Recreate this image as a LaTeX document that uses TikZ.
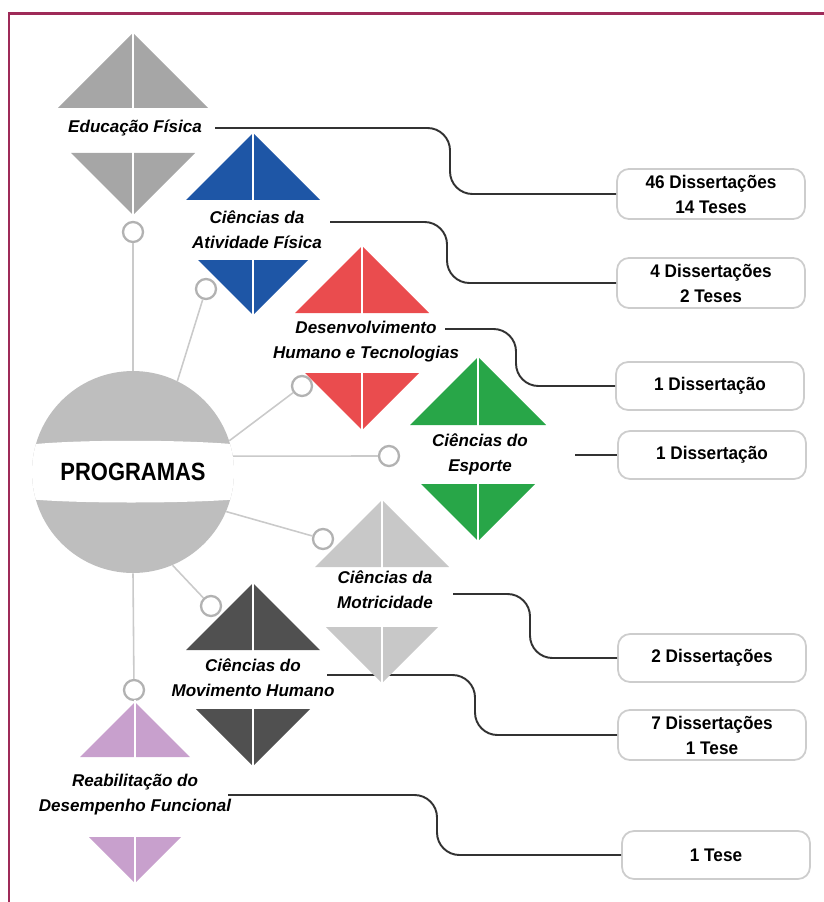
\documentclass[tikz,border=0pt]{standalone}
\usepackage{fontspec}
\setmainfont{Liberation Sans}
\newfontfamily\boxfont[FakeStretch=0.94]{Liberation Sans}
\newfontfamily\titlefont[FakeStretch=0.88]{Liberation Sans}
\usepackage{tikz}
\usetikzlibrary{math}
\definecolor{framered}{RGB}{158, 42, 88}
\definecolor{efgray}{RGB}{166, 166, 166}
\definecolor{cafblue}{RGB}{30, 86, 166}
\definecolor{dhtred}{RGB}{234, 76, 78}
\definecolor{cegreen}{RGB}{40, 166, 72}
\definecolor{cmgray}{RGB}{200, 200, 200}
\definecolor{cmhgray}{RGB}{80, 80, 80}
\definecolor{rdfpink}{RGB}{200, 160, 205}
\definecolor{circlegray}{RGB}{190, 190, 190}
\definecolor{spokegray}{RGB}{202, 202, 202}
\definecolor{ringgray}{RGB}{178, 178, 178}
\definecolor{linkgray}{RGB}{50, 50, 50}
\definecolor{boxgray}{RGB}{205, 205, 205}

\begin{document}
\begin{tikzpicture}[x=0.02cm, y=-0.02cm,
  spoke/.style={spokegray, line width=0.9pt},
  ring/.style={circle, draw=ringgray, fill=white, line width=1.3pt, minimum size=0.4cm, inner sep=0pt},
  prog/.style={align=center, font=\bfseries\itshape\fontsize{9.7}{14.2}\selectfont},
  link/.style={linkgray, line width=1.1pt, rounded corners=0.45cm},
  count/.style={draw=boxgray, line width=1pt, rounded corners=0.24cm, fill=white,
    minimum width=3.76cm, minimum height=0.96cm, align=center,
    font=\boxfont\bfseries\fontsize{10.4}{14.2}\selectfont}]

  \useasboundingbox (0, 0) rectangle (824, 902);

  % frame
  \draw[framered, line width=1.7pt] (824, 13.5) -- (9, 13.5) -- (9, 902);

  % central circle
  \fill[circlegray] (133, 472) circle (2.02cm);
  \begin{scope}
    \clip (133, 472) circle (2.02cm);
    \fill[white] (20, 446) .. controls (60, 439) and (200, 439) .. (250, 446)
                 -- (250, 498) .. controls (200, 504) and (60, 504) .. (20, 498) -- cycle;
  \end{scope}
  \node[circle, minimum size=4.04cm, inner sep=0pt,
        font=\titlefont\bfseries\fontsize{14.2}{16}\selectfont] (progs) at (133, 472) {PROGRAMAS};

  % rings
  \node[ring] (r1) at (133, 232) {};
  \node[ring] (r2) at (206, 289) {};
  \node[ring] (r3) at (302, 386) {};
  \node[ring] (r4) at (389, 456) {};
  \node[ring] (r5) at (323, 539) {};
  \node[ring] (r6) at (211, 606) {};
  \node[ring] (r7) at (134, 690) {};

  \draw[spoke] (progs.north) -- (r1);
  \draw[spoke] (progs.64) -- (r2);
  \draw[spoke] (progs.18) -- (r3);
  \draw[spoke] (progs.9) -- (r4);
  \draw[spoke] (progs.-23) -- (r5);
  \draw[spoke] (progs.-67) -- (r6);
  \draw[spoke] (progs.south) -- (r7);

  % counts
  \node[count] (b1) at (711, 194) {46 Dissertações\\14 Teses};
  \node[count] (b2) at (711, 283) {4 Dissertações\\2 Teses};
  \node[count] (b3) at (710, 386) {1 Dissertação};
  \node[count] (b4) at (712, 455) {1 Dissertação};
  \node[count] (b5) at (712, 658) {2 Dissertações};
  \node[count] (b6) at (712, 735) {7 Dissertações\\1 Tese};
  \node[count] (b7) at (716, 855) {1 Tese};

  % links
  \coordinate (ef-o) at (215, 128);
  \coordinate (caf-o) at (330, 222);
  \coordinate (dht-o) at (445, 329);
  \coordinate (ce-o) at (575, 455);
  \coordinate (cm-o) at (453, 594);
  \coordinate (cmh-o) at (327, 675);
  \coordinate (rdf-o) at (228, 795);

  \coordinate (k1) at (450, 0);
  \coordinate (k2) at (447, 0);
  \coordinate (k3) at (516, 0);
  \coordinate (k5) at (530, 0);
  \coordinate (k6) at (475, 0);
  \coordinate (k7) at (437, 0);

  \draw[link] (ef-o) -| (k1 |- b1.west) -- (b1.west);
  \draw[link] (caf-o) -| (k2 |- b2.west) -- (b2.west);
  \draw[link] (dht-o) -| (k3 |- b3.west) -- (b3.west);
  \draw[link] (ce-o) -- (b4.west);
  \draw[link] (cm-o) -| (k5 |- b5.west) -- (b5.west);
  \draw[link] (cmh-o) -| (k6 |- b6.west) -- (b6.west);
  \draw[link] (rdf-o) -| (k7 |- b7.west) -- (b7.west);

  % diamonds
  \foreach \cx/\yt/\yb/\yl/\ya/\col in {133/33/108/153/215/efgray,
      253/133/200/260/315/cafblue, 362/246/313/373/430/dhtred,
      478/357/425/484/541/cegreen, 382/500/567/627/683/cmgray,
      253/583/650/709/766/cmhgray, 135/702/757/837/883/rdfpink} {
    \pgfmathsetmacro{\wu}{\yb - \yt}
    \pgfmathsetmacro{\wl}{\ya - \yl}
    \fill[\col] (\cx, \yt) -- (\cx + \wu, \yb) -- (\cx - \wu, \yb) -- cycle;
    \fill[\col] (\cx - \wl, \yl) -- (\cx + \wl, \yl) -- (\cx, \ya) -- cycle;
    \draw[white, line width=1.6pt] (\cx, \yt - 2) -- (\cx, \yb + 1);
    \draw[white, line width=1.6pt] (\cx, \yl - 1) -- (\cx, \ya + 2);
  }

  % labels
  \node[prog] (ef) at (135, 128) {Educação Física};
  \node[prog] (caf) at (257, 230) {Ciências da\\Atividade Física};
  \node[prog] (dht) at (366, 342) {Desenvolvimento\\Humano e Tecnologias};
  \node[prog] (ce) at (480, 454) {Ciências do\\Esporte};
  \node[prog] (cm) at (385, 590) {Ciências da\\Motricidade};
  \node[prog] (cmh) at (253, 678) {Ciências do\\Movimento Humano};
  \node[prog] (rdf) at (135, 795) {Reabilitação do\\Desempenho Funcional};

\end{tikzpicture}
\end{document}
